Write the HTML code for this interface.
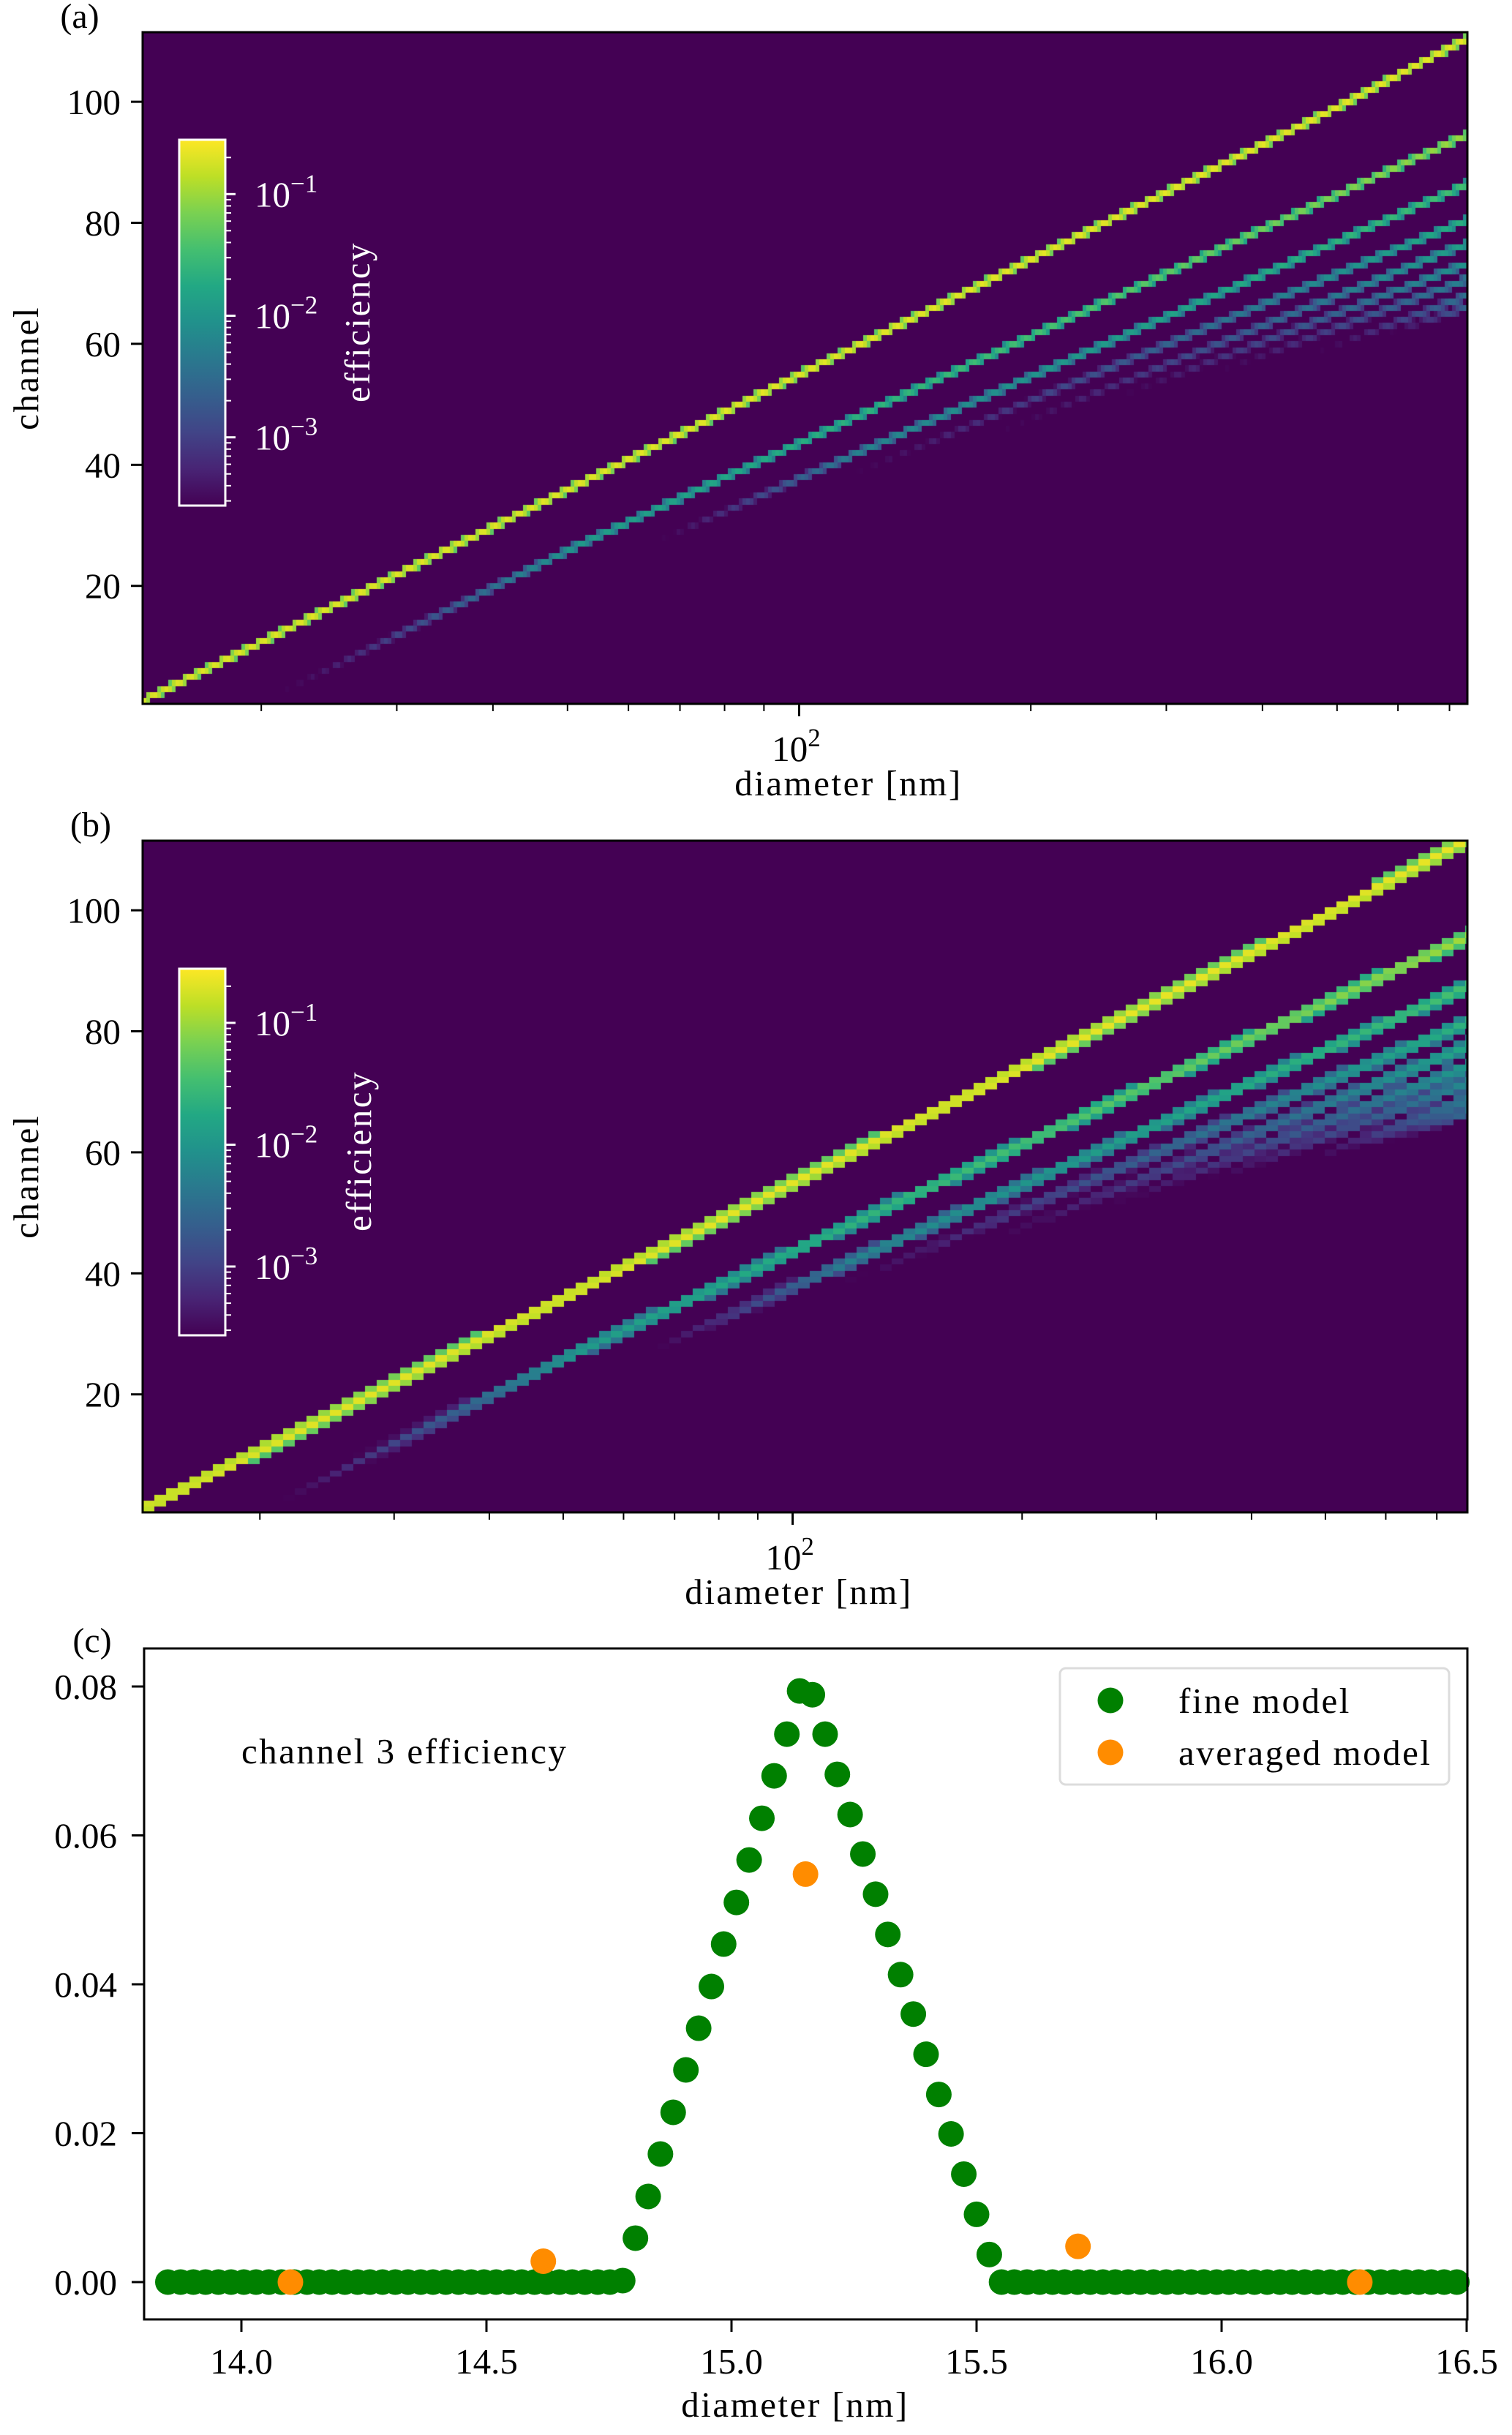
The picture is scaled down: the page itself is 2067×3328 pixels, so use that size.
<!DOCTYPE html>
<html><head><meta charset="utf-8">
<style>
html,body{margin:0;padding:0;background:#fff;}
#wrap{position:relative;width:2067px;height:3328px;overflow:hidden;}
canvas{position:absolute;}
svg{position:absolute;left:0;top:0;}
text{font-family:"Liberation Serif",serif;}
.wd{letter-spacing:2.5px;}
</style></head><body>
<div id="wrap">
<canvas id="hmA"></canvas>
<canvas id="hmB"></canvas>
<svg id="fig" width="2067" height="3328" xmlns="http://www.w3.org/2000/svg">
<defs>
<linearGradient id="vir" x1="0" y1="1" x2="0" y2="0">
<stop offset="0" stop-color="#440154"/><stop offset="0.1" stop-color="#482475"/><stop offset="0.2" stop-color="#414487"/><stop offset="0.3" stop-color="#355f8d"/><stop offset="0.4" stop-color="#2a788e"/><stop offset="0.5" stop-color="#21918c"/><stop offset="0.6" stop-color="#22a884"/><stop offset="0.7" stop-color="#44bf70"/><stop offset="0.8" stop-color="#7ad151"/><stop offset="0.9" stop-color="#bddf26"/><stop offset="1" stop-color="#fde725"/>
</linearGradient>
</defs>
<g id="gA"></g>
<g id="gB"></g>
<g id="gC"></g>
</svg>
</div>
<script>
// ---------- heatmap data (panels a & b) ----------
const bandCharge=[1,2,3,4,5,6,7,8,9];
const bandDiam=[[14.1,498,737],[21.8,52.7,737],[66.9,120,737],[121,737],[192,737],[269,737],[364,737],[490,737],[592,737]];
const bandChan=[[1.2,99,110.5],[3.2,27.3,94.6],[28,42.2,86.4],[39.2,80.5],[46.7,76.6],[52,73.3],[56.2,70.7],[59.5,68],[62.1,66.1]];
const bandEff=[[0.2,0.22,0.22],[0.0003,0.012,0.1],[0.0003,0.006,0.035],[0.0003,0.022],[0.0003,0.015],[0.0003,0.01],[0.0003,0.006],[0.0003,0.004],[0.0003,0.0025]];
const channelTicks=[20,40,60,80,100];
const cbarMajor=[-1,-2,-3];
const VMIN=2.75e-4, VMAX=0.277, NCH=111;

// ---------- panel c data ----------
const fineDiam=[13.850,13.876,13.902,13.927,13.953,13.979,14.005,14.030,14.056,14.082,14.108,14.134,14.159,14.185,14.211,14.237,14.262,14.288,14.314,14.340,14.366,14.391,14.417,14.443,14.469,14.495,14.520,14.546,14.572,14.598,14.623,14.649,14.675,14.701,14.727,14.752,14.778,14.804,14.830,14.855,14.881,14.907,14.933,14.959,14.984,15.010,15.036,15.062,15.087,15.113,15.139,15.165,15.191,15.216,15.242,15.268,15.294,15.319,15.345,15.371,15.397,15.423,15.448,15.474,15.500,15.526,15.551,15.577,15.603,15.629,15.655,15.680,15.706,15.732,15.758,15.783,15.809,15.835,15.861,15.887,15.912,15.938,15.964,15.990,16.015,16.041,16.067,16.093,16.119,16.144,16.170,16.196,16.222,16.247,16.273,16.299,16.325,16.351,16.376,16.402,16.428,16.454,16.480];
const fineEff=[0,0,0,0,0,0,0,0,0,0,0,0,0,0,0,0,0,0,0,0,0,0,0,0,0,0,0,0,0,0,0,0,0,0,0,0,0.0002,
0.0059,0.0115,0.0172,0.0228,0.0285,0.0341,0.0397,0.0454,0.0510,0.0567,0.0623,0.0680,0.0736,0.0794,
0.0789,0.0736,0.0682,0.0628,0.0575,0.0521,0.0467,0.0413,0.0360,0.0306,0.0252,0.0199,0.0145,0.0091,0.0037,
0,0,0,0,0,0,0,0,0,0,0,0,0,0,0,0,0,0,0,0,0,0,0,0,0,0,0,0,0,0,0,0,0,0,0,0,0];
const avgDiam=[14.100,14.616,15.151,15.707,16.282];
const avgEff=[0.0,0.0028,0.0548,0.0048,0.0];
const cXTicks=[14.0,14.5,15.0,15.5,16.0,16.5];
const cYTicks=[0.00,0.02,0.04,0.06,0.08];

const NS="http://www.w3.org/2000/svg";
function mk(parent,tag,attrs,txt){const e=document.createElementNS(NS,tag);for(const k in attrs)e.setAttribute(k,attrs[k]);if(txt!==undefined)e.textContent=txt;parent.appendChild(e);return e;}

const VIR=[[68,1,84],[72,36,117],[65,68,135],[53,95,141],[42,120,142],[33,145,140],[34,168,132],[68,191,112],[122,209,81],[189,223,38],[253,231,37]];
function viridis(t){t=Math.max(0,Math.min(1,t));const f=t*10,i=Math.min(9,Math.floor(f)),r=f-i;const a=VIR[i],b=VIR[i+1];return [a[0]+(b[0]-a[0])*r,a[1]+(b[1]-a[1])*r,a[2]+(b[2]-a[2])*r];}
function interpLog(ds,vs,d,logv){const L=Math.log10(d);const n=ds.length;let i=0;
 if(L<=Math.log10(ds[0]))i=0;else if(L>=Math.log10(ds[n-2]))i=n-2;else{for(i=0;i<n-2;i++)if(L<Math.log10(ds[i+1]))break;}
 const x0=Math.log10(ds[i]),x1=Math.log10(ds[i+1]);const r=(L-x0)/(x1-x0);
 if(logv){return Math.pow(10,Math.log10(vs[i])+(Math.log10(vs[i+1])-Math.log10(vs[i]))*r);}
 return vs[i]+(vs[i+1]-vs[i])*r;}

function drawHeatmap(cv,P){
 cv.style.left=P.x0+'px';cv.style.top=P.y0+'px';
 const W=P.x1-P.x0,H=P.y1-P.y0;cv.width=W;cv.height=H;
 const ctx=cv.getContext('2d');const img=ctx.createImageData(W,H);const D=img.data;
 const rowH=H/NCH;
 const cache={};
 for(let px=0;px<W;px++){
  const bx=Math.floor(px/P.bin)*P.bin+P.bin/2;
  let col=cache[bx];
  if(!col){
   const d=100*Math.pow(10,(P.x0+bx-P.x100)/P.dec);
   col=[];
   for(let c=1;c<=NCH;c++){
    let v=0;
    for(let k=0;k<bandCharge.length;k++){
     const ds=bandDiam[k];if(d<ds[0]*0.97)continue;
     const ch=interpLog(ds,bandChan[k],d,false);
     const u=ch-c;if(Math.abs(u)>P.cut)continue;
     const e=interpLog(ds,bandEff[k],Math.max(d,ds[0]),true);
     v+=e*Math.exp(-Math.pow(u/P.w,2));
    }
    let t=v<=VMIN?0:(Math.log10(v)-Math.log10(VMIN))/(Math.log10(VMAX)-Math.log10(VMIN));
    col.push(viridis(t));
   }
   cache[bx]=col;
  }
  for(let py=0;py<H;py++){
   const c=NCH-Math.floor(py/rowH);const rgb=col[Math.max(0,Math.min(NCH-1,c-1))];
   const o=(py*W+px)*4;D[o]=rgb[0];D[o+1]=rgb[1];D[o+2]=rgb[2];D[o+3]=255;
  }
 }
 ctx.putImageData(img,0,0);
}

function heatAxes(g,P,label){
 const yS=ch=>P.y1-(ch-0.5)*(P.y1-P.y0)/NCH;
 mk(g,'rect',{x:P.x0,y:P.y0,width:P.x1-P.x0,height:P.y1-P.y0,fill:'none',stroke:'#000','stroke-width':3,});
 mk(g,'text',{x:P.lx,y:P.y0-6,'font-size':48,'text-anchor':'middle',},label);
 channelTicks.forEach(v=>{const y=yS(v);
  mk(g,'line',{x1:P.x0-16,x2:P.x0,y1:y,y2:y,stroke:'#000','stroke-width':3,});
  mk(g,'text',{x:P.x0-30,y:y+17,'font-size':49,'text-anchor':'end',},String(v));});
 const xS=d=>P.x100+P.dec*Math.log10(d/100);
 [20,30,40,50,60,70,80,90,200,300,400,500,600,700].forEach(d=>{const x=xS(d);if(x<P.x0||x>P.x1)return;
  mk(g,'line',{x1:x,x2:x,y1:P.y1,y2:P.y1+10,stroke:'#000','stroke-width':2,});});
 const xm=xS(100);
 mk(g,'line',{x1:xm,x2:xm,y1:P.y1,y2:P.y1+17,stroke:'#000','stroke-width':3,});
 const t=mk(g,'text',{x:xm-4,y:P.y1+78,'font-size':49,'text-anchor':'middle',});
 t.appendChild(document.createTextNode('10'));mk(t,'tspan',{dy:-20,'font-size':35},'2');
 mk(g,'text',{x:P.xlc,y:P.y1+125,'font-size':49,'text-anchor':'middle','class':'wd',},'diameter [nm]');
 const cy=(P.y0+P.y1)/2;
 mk(g,'text',{x:0,y:0,'font-size':49,'text-anchor':'middle','class':'wd',transform:`translate(${P.ylx},${cy}) rotate(-90)`,},'channel');
 const cb=P.cb;
 mk(g,'rect',{x:cb.x0,y:cb.y0,width:cb.x1-cb.x0,height:cb.y1-cb.y0,fill:'url(#vir)',stroke:'#fff','stroke-width':3,});
 const cbY=e=>cb.yM3-(e+3)*cb.dec;
 for(let e=-4;e<=-1;e++)for(let m=2;m<=9;m++){const y=cbY(e+Math.log10(m));if(y<cb.y0+2||y>cb.y1-2)continue;
  mk(g,'line',{x1:cb.x1,x2:cb.x1+8,y1:y,y2:y,stroke:'#fff','stroke-width':2,});}
 cbarMajor.forEach(e=>{const y=cbY(e);
  mk(g,'line',{x1:cb.x1,x2:cb.x1+14,y1:y,y2:y,stroke:'#fff','stroke-width':3,});
  const tt=mk(g,'text',{x:cb.x1+40,y:y+17,'font-size':49,fill:'#fff',});
  tt.appendChild(document.createTextNode('10'));mk(tt,'tspan',{dy:-20,'font-size':35},'\u2212'+(-e));});
 mk(g,'text',{x:0,y:0,'font-size':49,fill:'#fff','text-anchor':'middle','class':'wd',transform:`translate(${cb.lx},${cb.ly}) rotate(-90)`,},'efficiency');
}

const PA={x0:195,x1:2006,y0:44,y1:962,x100:1092.5,dec:1052,bin:5,w:0.6,cut:0.75,lx:109,xlc:1160,ylx:52,
 cb:{x0:245,x1:308,y0:191,y1:691,yM3:597.7,dec:166.2,lx:505,ly:440}};
const PB={x0:195,x1:2006,y0:1149,y1:2067,x100:1083.6,dec:1042,bin:16,w:1.0,cut:1.3,lx:124,xlc:1092,ylx:52,
 cb:{x0:245,x1:308,y0:1324,y1:1825,yM3:1731,dec:166.5,lx:507,ly:1573}};
drawHeatmap(document.getElementById('hmA'),PA);
drawHeatmap(document.getElementById('hmB'),PB);
heatAxes(document.getElementById('gA'),PA,'(a)');
heatAxes(document.getElementById('gB'),PB,'(b)');

(function(){
 const g=document.getElementById('gC');
 const x0=197,x1=2006,y0=2253,y1=3170;
 const xS=v=>330+(v-14.0)*670;
 const yS=v=>3119-v*(3119-2305)/0.08;
 const fine=mk(g,'g',{});
 fineDiam.forEach((d,i)=>{const c=mk(fine,'circle',{cx:xS(d),cy:yS(fineEff[i]),r:17.5,fill:'#008000'});
  
  });
 const avg=mk(g,'g',{});
 avgDiam.forEach((d,i)=>{const c=mk(avg,'circle',{cx:xS(d),cy:yS(avgEff[i]),r:17.5,fill:'#ff8c00'});
  
  });
 mk(g,'rect',{x:x0,y:y0,width:x1-x0,height:y1-y0,fill:'none',stroke:'#000','stroke-width':3,});
 mk(g,'text',{x:126,y:2258,'font-size':48,'text-anchor':'middle',},'(c)');
 cXTicks.forEach(v=>{const x=xS(v);
  mk(g,'line',{x1:x,x2:x,y1:y1,y2:y1+17,stroke:'#000','stroke-width':3,});
  mk(g,'text',{x:x,y:3244,'font-size':49,'text-anchor':'middle',},v.toFixed(1));});
 cYTicks.forEach(v=>{const y=yS(v);
  mk(g,'line',{x1:x0-17,x2:x0,y1:y,y2:y,stroke:'#000','stroke-width':3,});
  mk(g,'text',{x:160,y:y+17,'font-size':49,'text-anchor':'end',},v.toFixed(2));});
 mk(g,'text',{x:1087,y:3303,'font-size':49,'text-anchor':'middle','class':'wd',},'diameter [nm]');
 mk(g,'text',{x:330,y:2410,'font-size':49,'class':'wd',},'channel 3 efficiency');
 const lg=mk(g,'g',{});
 mk(lg,'rect',{x:1449,y:2280,width:532,height:159,rx:8,fill:'#fff',stroke:'#dcdcdc','stroke-width':3,});
 mk(lg,'circle',{cx:1518,cy:2324,r:17.5,fill:'#008000',});
 mk(lg,'text',{x:1611,y:2341,'font-size':49,'class':'wd',},'fine model');
 mk(lg,'circle',{cx:1518,cy:2395,r:17.5,fill:'#ff8c00',});
 mk(lg,'text',{x:1611,y:2412,'font-size':49,'class':'wd',},'averaged model');
})();
</script>
</body></html>
